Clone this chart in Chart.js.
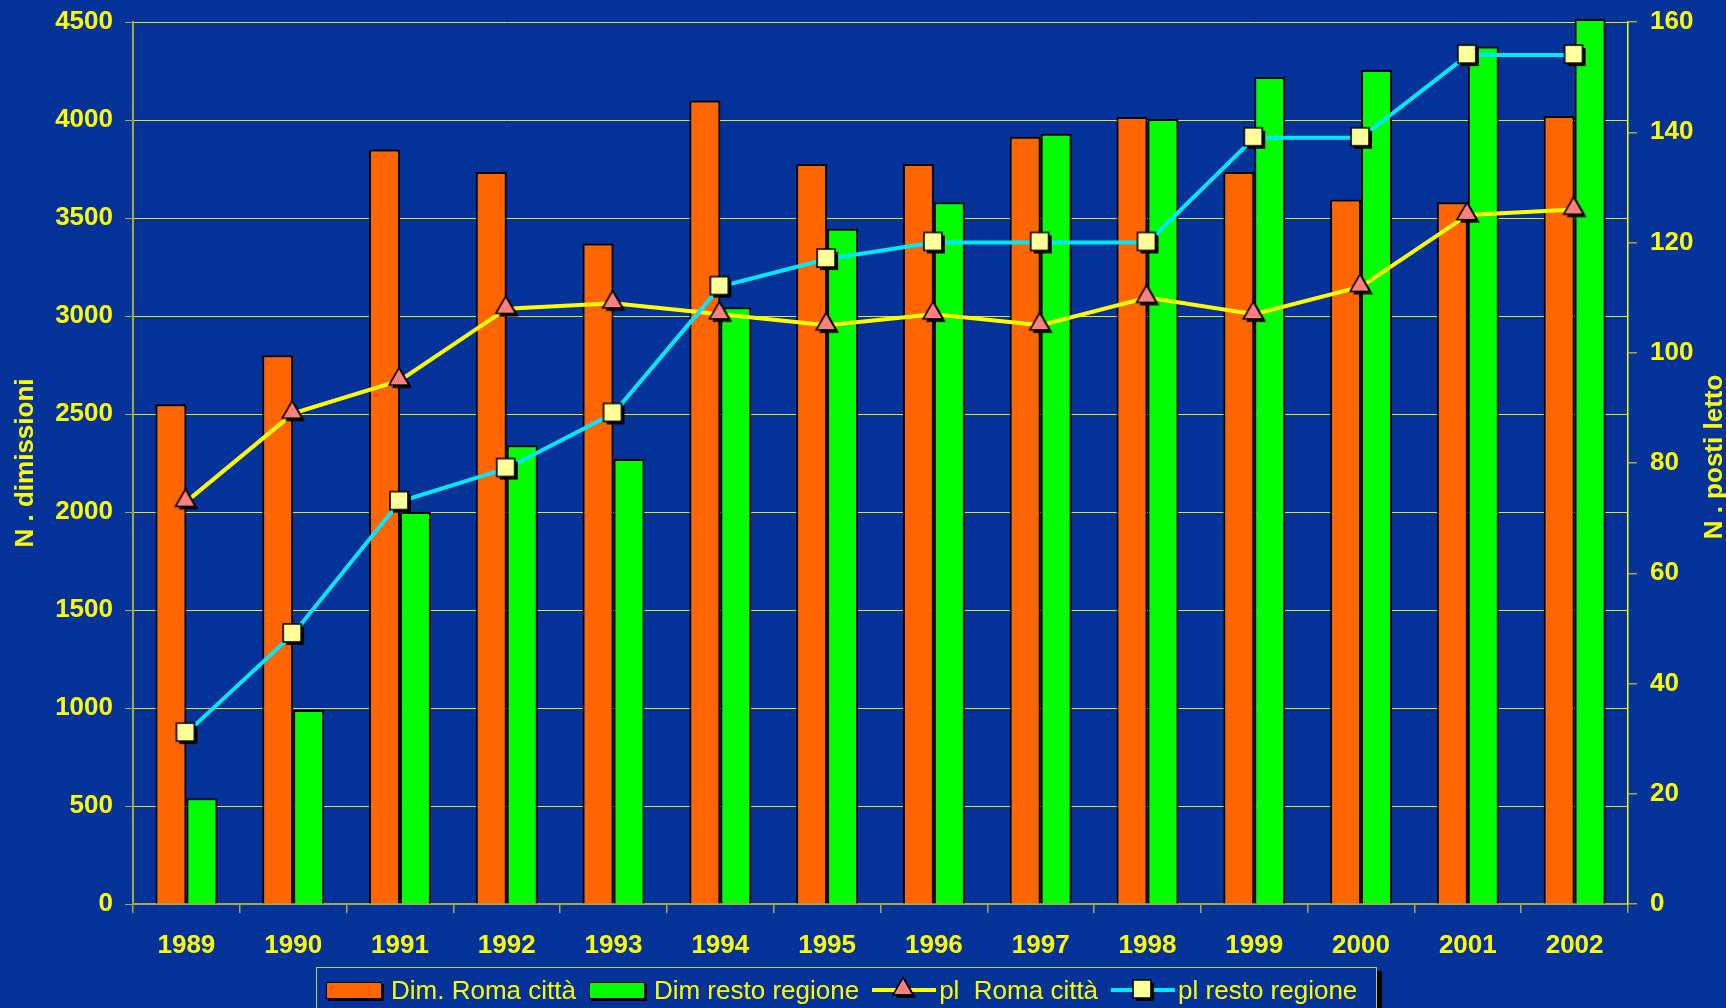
<!DOCTYPE html>
<html>
<head>
<meta charset="utf-8">
<script src="https://cdn.jsdelivr.net/npm/chart.js@4/dist/chart.umd.min.js"></script>
<style>
html,body{margin:0;padding:0;background:#033399;width:1726px;height:1008px;overflow:hidden;}
#wrap{position:relative;width:1726px;height:1008px;}
#c{position:absolute;left:0;top:0;}
#legend{position:absolute;left:316px;top:967px;width:1061px;height:70px;border:1px solid #c8c850;box-shadow:5px 4px 0 #000;background:#033399;box-sizing:border-box;}
#legend .row{position:absolute;left:9px;top:7px;height:30px;display:flex;align-items:center;font:26px "Liberation Sans",Arial,sans-serif;color:#ffff00;white-space:pre;}
#legend .sw{width:54px;height:15px;border:1px solid #000;box-shadow:2px 2px 0 #000;margin-right:9px;}
#legend .txt{margin-right:13px;}
#legend canvas{margin-right:3px;}
</style>
</head>
<body>
<div id="wrap">
<canvas id="c" width="1726" height="1008"></canvas>
<div id="legend"><div class="row" id="legrow"></div></div>
</div>
<script>
// ---- data ----
const years = ['1989','1990','1991','1992','1993','1994','1995','1996','1997','1998','1999','2000','2001','2002'];
const dimRomaCitta = [2550,2800,3850,3735,3370,4100,3775,3775,3915,4015,3735,3595,3580,4020];
const dimRestoRegione = [540,990,2000,2340,2270,3045,3445,3580,3930,4005,4220,4255,4375,4515];
const plRomaCitta = [73,89,95,108,109,107,105,107,105,110,107,112,125,126];
const plRestoRegione = [31,49,73,79,89,112,117,120,120,120,139,139,154,154];
const seriesLabels = ['Dim. Roma città','Dim resto regione','pl  Roma città','pl resto regione'];
const leftAxisTitle = 'N . dimissioni';
const rightAxisTitle = 'N . posti letto';
const leftMax = 4500, leftStep = 500;
const rightMax = 160, rightStep = 20;

// ---- styles ----
const ORANGE = '#ff6600', GREEN = '#00ff00', YELLOW = '#ffff00', CYAN = '#00e8ff';
const TRI_FILL = '#ff8080', SQ_FILL = '#ffff99';
const OLIVE = '#a8a840';

function makeMarker(shape, fill){
  const cv = document.createElement('canvas');
  cv.width = 34; cv.height = 34;
  const g = cv.getContext('2d');
  const c = 16;
  function path(ox, oy){
    g.beginPath();
    if (shape === 'tri'){
      const R = 11.5;
      g.moveTo(c+ox, c-R+oy);
      g.lineTo(c+R*0.866+ox, c+R*0.5+oy);
      g.lineTo(c-R*0.866+ox, c+R*0.5+oy);
      g.closePath();
    } else {
      const h = 9;
      g.rect(c-h+ox, c-h+oy, 2*h, 2*h);
    }
  }
  path(3,3); g.fillStyle = '#000'; g.fill();
  path(0,0); g.fillStyle = fill; g.fill();
  g.lineWidth = 1.6; g.strokeStyle = '#000'; g.stroke();
  return cv;
}
const triMarker = makeMarker('tri', TRI_FILL);
const sqMarker = makeMarker('sq', SQ_FILL);

const rightTitlePlugin = {
  id: 'rightTitle',
  afterDraw(chart){
    const ctx = chart.ctx, s = chart.scales.y1, a = chart.chartArea;
    ctx.save();
    ctx.translate(s.right - 11, (a.top + a.bottom)/2 - 6);
    ctx.rotate(-Math.PI/2);
    ctx.font = 'bold 26px "Liberation Sans", Arial, sans-serif';
    ctx.fillStyle = YELLOW;
    ctx.textAlign = 'center';
    ctx.textBaseline = 'middle';
    ctx.fillText(rightAxisTitle, 0, 0);
    ctx.restore();
  }
};

const tickFont = {family: '"Liberation Sans", Arial, sans-serif', size: 26, weight: 'bold'};
function fitVertical(width){
  return function(s){ s.width = width; s.paddingTop = 0; s.paddingBottom = 0; };
}

const chart = new Chart(document.getElementById('c'), {
  type: 'bar',
  data: {
    labels: years,
    datasets: [
      {type:'bar', label: seriesLabels[0], data: dimRomaCitta, yAxisID:'y', order:2,
       backgroundColor: ORANGE, borderColor: '#000', borderWidth: 2, clip: false,
       categoryPercentage: 0.58, barPercentage: 1},
      {type:'bar', label: seriesLabels[1], data: dimRestoRegione, yAxisID:'y', order:3,
       backgroundColor: GREEN, borderColor: '#000', borderWidth: 2, clip: false,
       categoryPercentage: 0.58, barPercentage: 1},
      {type:'line', label: seriesLabels[2], data: plRomaCitta, yAxisID:'y1', order:1,
       borderColor: YELLOW, borderWidth: 4, tension: 0, pointStyle: triMarker, pointRadius: 12, fill:false},
      {type:'line', label: seriesLabels[3], data: plRestoRegione, yAxisID:'y1', order:0,
       borderColor: CYAN, borderWidth: 4, tension: 0, pointStyle: sqMarker, pointRadius: 12, fill:false}
    ]
  },
  options: {
    responsive: false,
    animation: false,
    devicePixelRatio: 1,
    layout: {padding: {left: 0, right: 0, top: 22, bottom: 44}},
    plugins: {legend: {display: false}, tooltip: {enabled: false}},
    scales: {
      x: {
        afterFit(s){ s.height = 60; },
        grid: {offset: true, drawOnChartArea: false, drawTicks: true, tickLength: 9, color: OLIVE, lineWidth: 1.5},
        border: {display: true, color: OLIVE, width: 2},
        ticks: {color: YELLOW, font: tickFont, padding: 17, maxRotation: 0, autoSkip: false}
      },
      y: {
        position: 'left', min: 0, max: leftMax,
        afterFit: fitVertical(133),
        grid: {color: '#e6e600', lineWidth: 1, drawTicks: true, tickLength: 8, tickColor: OLIVE},
        border: {display: true, color: OLIVE, width: 2},
        ticks: {color: YELLOW, font: tickFont, stepSize: leftStep, padding: 12, callback: v => String(v)},
        title: {display: true, text: leftAxisTitle, color: YELLOW,
                font: {family: '"Liberation Sans", Arial, sans-serif', size: 26, weight: 'bold'},
                padding: {top: 10, bottom: 0}}
      },
      y1: {
        position: 'right', min: 0, max: rightMax,
        afterFit: fitVertical(98),
        grid: {drawOnChartArea: false, drawTicks: true, tickLength: 9, color: OLIVE, lineWidth: 1.5},
        border: {display: true, color: YELLOW, width: 1.5},
        ticks: {color: YELLOW, font: tickFont, stepSize: rightStep, padding: 13, callback: v => String(v)}
      }
    }
  },
  plugins: [rightTitlePlugin]
});

// ---- HTML legend ----
const row = document.getElementById('legrow');
function addSwatch(color){
  const s = document.createElement('span'); s.className = 'sw'; s.style.background = color; row.appendChild(s);
}
function addLineIcon(color, marker){
  const cv = document.createElement('canvas'); cv.width = 64; cv.height = 30;
  const g = cv.getContext('2d');
  g.strokeStyle = color; g.lineWidth = 4;
  g.beginPath(); g.moveTo(0, 15); g.lineTo(64, 15); g.stroke();
  g.drawImage(marker, 32 - marker.width/2, 15 - marker.height/2);
  row.appendChild(cv);
}
function addText(t){
  const s = document.createElement('span'); s.className = 'txt'; s.textContent = t; row.appendChild(s);
}
addSwatch(ORANGE); addText(seriesLabels[0]);
addSwatch(GREEN); addText(seriesLabels[1]);
addLineIcon(YELLOW, triMarker); addText(seriesLabels[2]);
addLineIcon(CYAN, sqMarker); addText(seriesLabels[3]);
</script>
</body>
</html>
